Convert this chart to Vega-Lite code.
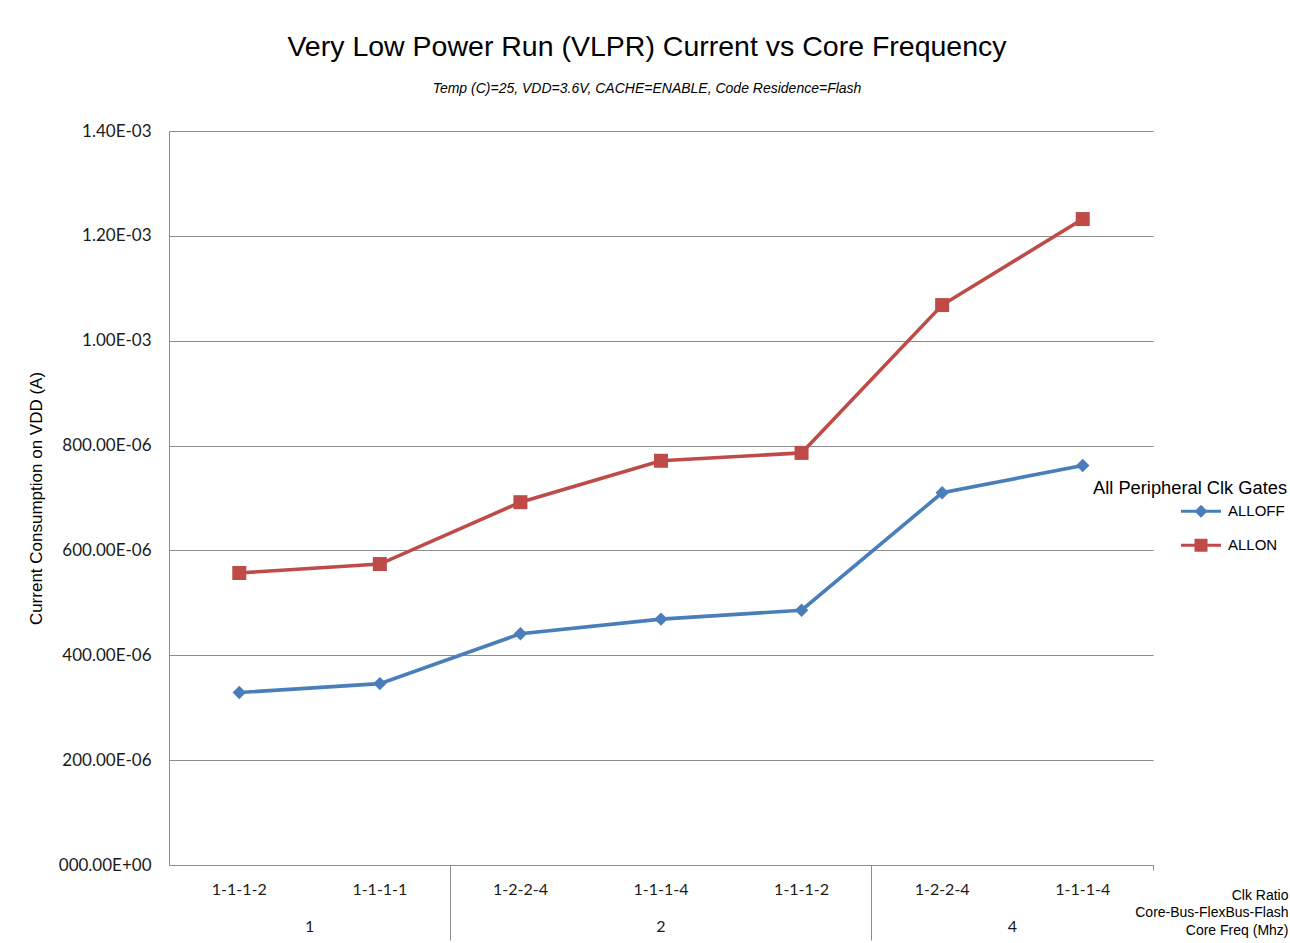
{
  "$schema": "https://vega.github.io/schema/vega-lite/v6.json",
  "width": 984,
  "height": 734,
  "autosize": "none",
  "padding": {"left": 169, "top": 131, "right": 137, "bottom": 78},
  "background": "white",
  "title": {
    "text": "Very Low Power Run (VLPR) Current vs Core Frequency",
    "subtitle": "Temp (C)=25, VDD=3.6V, CACHE=ENABLE, Code Residence=Flash",
    "font": "Liberation Sans",
    "fontSize": 28.5,
    "fontWeight": "normal",
    "color": "#000000",
    "subtitleFont": "Liberation Sans",
    "subtitleFontSize": 14,
    "subtitleFontStyle": "italic",
    "subtitleColor": "#000000",
    "subtitlePadding": 21,
    "anchor": "middle",
    "offset": 26,
    "dx": -14
  },
  "datasets": {
    "series": [
      {"cat": "1|1-1-1-2", "series": "ALLOFF", "value": 0.000329},
      {"cat": "1|1-1-1-1", "series": "ALLOFF", "value": 0.000346},
      {"cat": "2|1-2-2-4", "series": "ALLOFF", "value": 0.000441},
      {"cat": "2|1-1-1-4", "series": "ALLOFF", "value": 0.000469},
      {"cat": "2|1-1-1-2", "series": "ALLOFF", "value": 0.000486},
      {"cat": "4|1-2-2-4", "series": "ALLOFF", "value": 0.000710},
      {"cat": "4|1-1-1-4", "series": "ALLOFF", "value": 0.000762},
      {"cat": "1|1-1-1-2", "series": "ALLON", "value": 0.000557},
      {"cat": "1|1-1-1-1", "series": "ALLON", "value": 0.000574},
      {"cat": "2|1-2-2-4", "series": "ALLON", "value": 0.000692},
      {"cat": "2|1-1-1-4", "series": "ALLON", "value": 0.000771},
      {"cat": "2|1-1-1-2", "series": "ALLON", "value": 0.000786},
      {"cat": "4|1-2-2-4", "series": "ALLON", "value": 0.001068},
      {"cat": "4|1-1-1-4", "series": "ALLON", "value": 0.001232}
    ],
    "groupEdge": [
      {"grp": "1", "cat": "1|1-1-1-1"},
      {"grp": "4", "cat": "4|1-1-1-4"}
    ],
    "groupMid": [
      {"grp": "2", "cat": "2|1-1-1-4"}
    ]
  },
  "resolve": {"axis": {"x": "independent"}},
  "layer": [
    {
      "data": {"name": "series"},
      "mark": {"type": "line", "strokeWidth": 3.6},
      "encoding": {
        "x": {
          "field": "cat",
          "type": "ordinal",
          "scale": {
            "type": "band",
            "domain": ["1|1-1-1-2", "1|1-1-1-1", "2|1-2-2-4", "2|1-1-1-4", "2|1-1-1-2", "4|1-2-2-4", "4|1-1-1-4"],
            "paddingInner": 0,
            "paddingOuter": 0
          },
          "axis": {
            "orient": "bottom",
            "labelExpr": "split(datum.value, '|')[1]",
            "labelAngle": 0,
            "labelFont": "Lato",
            "labelFontSize": 16,
            "labelColor": "#1a1a1a",
            "labelPadding": 16,
            "ticks": false,
            "domain": true,
            "domainColor": "#8c8c8c",
            "domainWidth": 1,
            "grid": false,
            "title": ["Clk Ratio", "Core-Bus-FlexBus-Flash", "Core Freq (Mhz)"],
            "titleFont": "Liberation Sans",
            "titleFontSize": 14,
            "titleFontWeight": "normal",
            "titleColor": "#000000",
            "titleAlign": "right",
            "titleBaseline": "top",
            "titleX": 1119,
            "titleY": 23,
            "titleLineHeight": 17.5
          }
        },
        "y": {
          "field": "value",
          "type": "quantitative",
          "scale": {"domain": [0, 0.0014], "nice": false, "zero": true},
          "axis": {
            "values": [0, 0.0002, 0.0004, 0.0006, 0.0008, 0.001, 0.0012, 0.0014],
            "labelExpr": "datum.value >= 0.00095 ? format(datum.value * 1000, '.2f') + 'E-03' : (datum.value > 0 ? format(datum.value * 1000000, '.2f') + 'E-06' : '000.00E+00')",
            "grid": true,
            "gridColor": "#8c8c8c",
            "gridWidth": 1,
            "ticks": false,
            "domain": true,
            "domainColor": "#8c8c8c",
            "labelFont": "Lato",
            "labelFontSize": 17,
            "labelColor": "#1a1a1a",
            "labelPadding": 18,
            "title": "Current Consumption on VDD (A)",
            "titleFont": "Liberation Sans",
            "titleFontSize": 17,
            "titleFontWeight": "normal",
            "titleColor": "#000000",
            "titlePadding": 13
          }
        },
        "color": {
          "field": "series",
          "type": "nominal",
          "scale": {"domain": ["ALLOFF", "ALLON"], "range": ["#4A7EBB", "#BE4B48"]},
          "legend": {
            "title": "All Peripheral Clk Gates",
            "orient": "none",
            "legendX": 924,
            "legendY": 349,
            "padding": 0,
            "titleFont": "Liberation Sans",
            "titleFontSize": 18.3,
            "titleFontWeight": "normal",
            "titleColor": "#000000",
            "titleLimit": 400,
            "titlePadding": 3,
            "labelFont": "Liberation Sans",
            "labelFontSize": 15,
            "labelColor": "#000000",
            "labelLimit": 200,
            "symbolType": "M-2,-0.15H2V0.15H-2Z M-0.65,-0.65H0.65V0.65H-0.65Z",
            "symbolSize": 400,
            "symbolStrokeWidth": 0,
            "symbolOffset": 98,
            "labelOffset": 17,
            "rowPadding": 16,
            "encode": {
              "symbols": {
                "update": {
                  "shape": {"signal": "datum.value === 'ALLOFF' ? 'M-2,-0.15H2V0.15H-2Z M0,-0.65L0.65,0L0,0.65L-0.65,0Z' : 'M-2,-0.15H2V0.15H-2Z M-0.65,-0.65H0.65V0.65H-0.65Z'"},
                  "size": {"value": 400},
                  "fill": {"signal": "datum.value === 'ALLOFF' ? '#4A7EBB' : '#BE4B48'"},
                  "fillOpacity": {"value": 1},
                  "opacity": {"value": 1},
                  "stroke": {"value": "transparent"},
                  "strokeWidth": {"value": 0}
                }
              }
            }
          }
        }
      }
    },
    {
      "data": {"name": "series"},
      "transform": [{"filter": "datum.series === 'ALLOFF'"}],
      "mark": {"type": "point", "filled": true, "opacity": 1, "shape": "diamond", "size": 180},
      "encoding": {
        "x": {"field": "cat", "type": "ordinal", "axis": null},
        "y": {"field": "value", "type": "quantitative"},
        "color": {"field": "series", "type": "nominal", "legend": null}
      }
    },
    {
      "data": {"name": "series"},
      "transform": [{"filter": "datum.series === 'ALLON'"}],
      "mark": {"type": "point", "filled": true, "opacity": 1, "shape": "square", "size": 196},
      "encoding": {
        "x": {"field": "cat", "type": "ordinal", "axis": null},
        "y": {"field": "value", "type": "quantitative"},
        "color": {"field": "series", "type": "nominal", "legend": null}
      }
    },
    {
      "data": {"name": "groupEdge"},
      "mark": {"type": "text", "font": "Lato", "fontSize": 16, "color": "#1a1a1a", "align": "center", "baseline": "middle", "dy": 62},
      "encoding": {
        "x": {
          "field": "cat",
          "type": "ordinal",
          "bandPosition": 0,
          "axis": {
            "orient": "bottom",
            "values": ["1|1-1-1-2", "2|1-2-2-4", "4|1-2-2-4"],
            "bandPosition": 0,
            "labels": false,
            "ticks": true,
            "tickSize": 75,
            "tickColor": "#8c8c8c",
            "tickWidth": 1,
            "domain": false,
            "grid": false,
            "title": null
          }
        },
        "y": {"datum": 0, "type": "quantitative"},
        "text": {"field": "grp"}
      }
    },
    {
      "data": {"name": "groupMid"},
      "mark": {"type": "text", "font": "Lato", "fontSize": 16, "color": "#1a1a1a", "align": "center", "baseline": "middle", "dy": 62},
      "encoding": {
        "x": {
          "field": "cat",
          "type": "ordinal",
          "bandPosition": 0.5,
          "axis": {
            "orient": "bottom",
            "values": ["4|1-1-1-4"],
            "bandPosition": 1,
            "labels": false,
            "ticks": true,
            "tickSize": 5,
            "tickColor": "#8c8c8c",
            "tickWidth": 1,
            "domain": false,
            "grid": false,
            "title": null
          }
        },
        "y": {"datum": 0, "type": "quantitative"},
        "text": {"field": "grp"}
      }
    }
  ],
  "config": {
    "view": {"stroke": null}
  }
}
